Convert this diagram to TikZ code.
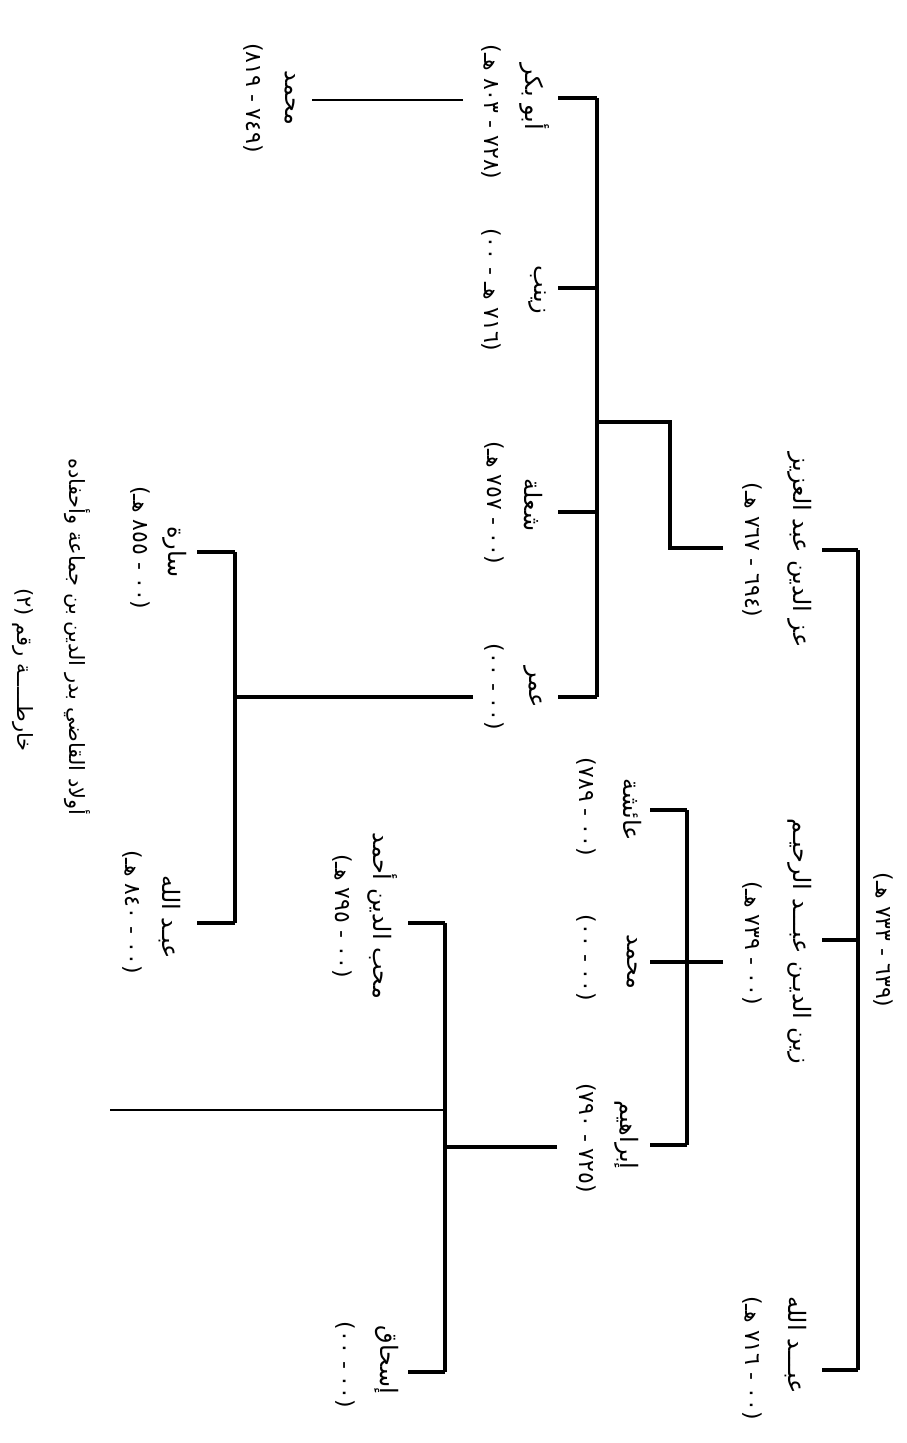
\documentclass[tikz,border=0pt]{standalone}
\usepackage{fontspec}
\newfontfamily\arabicfont[Script=Arabic]{DejaVu Sans}
\TeXXeTstate=1
\newcommand\ar[1]{\arabicfont\beginR #1\endR}

\begin{document}
\begin{tikzpicture}[x=1pt,y=-1pt,
    person/.style={rotate=-90,inner sep=0pt,font=\fontsize{24}{28}\selectfont},
    years/.style={rotate=-90,inner sep=0pt,font=\fontsize{22}{26}\selectfont},
    caption/.style={rotate=-90,inner sep=0pt,font=\fontsize{21}{25}\selectfont},
    link/.style={line width=3.2pt},
    thinlink/.style={line width=2.4pt}]
    \useasboundingbox (0,0) rectangle (907,1443);

    % root: the qadi himself
    \node[years] (root) at (883,940) {\ar{(٦٣٩ - ٧٣٣ هـ)}};
    \coordinate (r1) at (858,550);
    \coordinate (r2) at (858,940);
    \coordinate (r3) at (858,1370);
    \coordinate (r1e) at (822,550);
    \coordinate (r2e) at (822,940);
    \coordinate (r3e) at (822,1370);
    \draw[link] (r1) -- (r3);
    \draw[link] (r1) -- (r1e);
    \draw[link] (r2) -- (r2e);
    \draw[link] (r3) -- (r3e);

    % his sons
    \node[person] (azz) at (800,550) {\ar{عز الدين عبد العزيز}};
    \node[years] (azzY) at (752,550) {\ar{(٦٩٤ - ٧٦٧ هـ)}};
    \node[person] (zayn) at (800,941) {\ar{زين الديـن عبـــد الرحيـم}};
    \node[years] (zaynY) at (752,943) {\ar{(٠٠ - ٧٣٩ هـ)}};
    \node[person] (abd) at (796,1345) {\ar{عبـــد الله}};
    \node[years] (abdY) at (752,1358) {\ar{(٠٠ - ٧١٦ هـ)}};

    % children of Izz al-Din
    \coordinate (a0) at (723,548);
    \coordinate (a1) at (670,548);
    \coordinate (a2) at (670,422);
    \coordinate (a3) at (597,422);
    \draw[link] (a0) -- (a1) -- (a2) -- (a3);
    \coordinate (b1) at (597,98);
    \coordinate (b2) at (597,288);
    \coordinate (b3) at (597,512);
    \coordinate (b4) at (597,697);
    \coordinate (b1e) at (558,98);
    \coordinate (b2e) at (558,288);
    \coordinate (b3e) at (558,512);
    \coordinate (b4e) at (558,697);
    \draw[link] (b1) -- (b4);
    \foreach \k in {1,...,4}
        \draw[link] (b\k) -- (b\k e);
    \node[person] (abubakr) at (535,97) {\ar{أبو بكر}};
    \node[years] (abubakrY) at (491,112) {\ar{(٧٢٨ - ٨٠٣ هـ)}};
    \node[person] (zaynab) at (537,290) {\ar{زينب}};
    \node[years] (zaynabY) at (491,290) {\ar{(٧١٦ هـ - ٠٠)}};
    \node[person] (shula) at (533,505) {\ar{شعلة}};
    \node[years] (shulaY) at (494,503) {\ar{(٠٠ - ٧٥٧ هـ)}};
    \node[person] (umar) at (533,687) {\ar{عمر}};
    \node[years] (umarY) at (494,687) {\ar{(٠٠ - ٠٠)}};

    % son of Abu Bakr
    \coordinate (m0) at (463,100);
    \coordinate (m1) at (312,100);
    \draw[thinlink] (m0) -- (m1);
    \node[person] (muh) at (290,98) {\ar{محمد}};
    \node[years] (muhY) at (253,98) {\ar{(٧٤٩ - ٨١٩)}};

    % children of Umar
    \coordinate (u0) at (473,697);
    \coordinate (u1) at (235,697);
    \draw[link] (u0) -- (u1);
    \coordinate (c1) at (235,552);
    \coordinate (c2) at (235,923);
    \coordinate (c1e) at (197,552);
    \coordinate (c2e) at (197,923);
    \draw[link] (c1) -- (c2);
    \draw[link] (c1) -- (c1e);
    \draw[link] (c2) -- (c2e);
    \node[person] (sara) at (175,552) {\ar{سارة}};
    \node[years] (saraY) at (140,548) {\ar{(٠٠ - ٨٥٥ هـ)}};
    \node[person] (abd2) at (170,917) {\ar{عبـد الله}};
    \node[years] (abd2Y) at (132,912) {\ar{(٠٠ - ٨٤٠ هـ)}};

    % children of Zayn al-Din
    \coordinate (z0) at (723,962);
    \coordinate (z2e) at (650,962);
    \draw[link] (z0) -- (z2e);
    \coordinate (d1) at (687,810);
    \coordinate (d3) at (687,1145);
    \coordinate (d1e) at (650,810);
    \coordinate (d3e) at (650,1145);
    \draw[link] (d1) -- (d3);
    \draw[link] (d1) -- (d1e);
    \draw[link] (d3) -- (d3e);
    \node[person] (aisha) at (632,810) {\ar{عائشة}};
    \node[years] (aishaY) at (586,807) {\ar{(٠٠ - ٧٨٩)}};
    \node[person] (muh2) at (632,962) {\ar{محمد}};
    \node[years] (muh2Y) at (586,958) {\ar{(٠٠ - ٠٠)}};
    \node[person] (ibr) at (627,1135) {\ar{إبراهيم}};
    \node[years] (ibrY) at (586,1138) {\ar{(٧٢٥ - ٧٩٠)}};

    % children of Ibrahim
    \coordinate (i0) at (557,1147);
    \coordinate (i1) at (445,1147);
    \draw[link] (i0) -- (i1);
    \coordinate (e1) at (445,923);
    \coordinate (e2) at (445,1372);
    \coordinate (e1e) at (408,923);
    \coordinate (e2e) at (408,1372);
    \coordinate (cont) at (445,1110);
    \coordinate (conte) at (110,1110);
    \draw[link] (e1) -- (e2);
    \draw[link] (e1) -- (e1e);
    \draw[link] (e2) -- (e2e);
    \draw[thinlink] (cont) -- (conte);
    \node[person] (muhib) at (383,916) {\ar{محب الدين أحمد}};
    \node[years] (muhibY) at (342,916) {\ar{(٠٠ - ٧٩٥ هـ)}};
    \node[person] (ishaq) at (387,1360) {\ar{إسحاق}};
    \node[years] (ishaqY) at (345,1365) {\ar{(٠٠ - ٠٠)}};

    % caption
    \node[caption] (title) at (77,637) {\ar{أولاد القاضي بدر الدين بن جماعة وأحفاده}};
    \node[caption] (mapno) at (23,670) {\ar{خارطـــــة رقم (٢)}};
\end{tikzpicture}
\end{document}
